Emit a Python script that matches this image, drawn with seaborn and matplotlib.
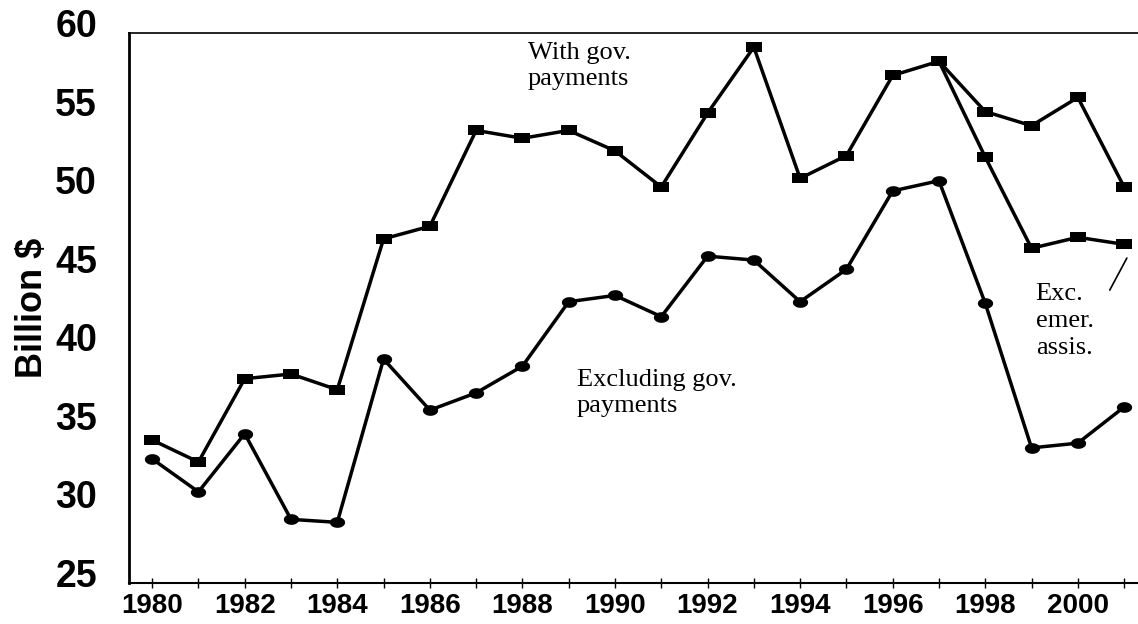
import numpy as np
import pandas as pd
import matplotlib
matplotlib.use("Agg")
import matplotlib.pyplot as plt
from matplotlib.transforms import ScaledTranslation
from matplotlib.ticker import FixedLocator
import seaborn as sns

# ---- data ----
years = list(range(1980, 2002))
with_gov = [34.1, 32.7, 38.0, 38.3, 37.3, 46.9, 47.7, 53.8, 53.3, 53.8, 52.5,
            50.2, 54.9, 59.1, 50.75, 52.2, 57.3, 58.2, 55.0, 54.1, 55.9, 50.2]
excl_gov = [32.9, 30.8, 34.5, 29.05, 28.86, 39.25, 36.0, 37.1, 38.8, 42.9, 43.3,
            41.95, 45.8, 45.55, 42.9, 44.96, 49.95, 50.6, 42.8, 33.6, 33.9, 36.2]
emer_years = [1997, 1998, 1999, 2000, 2001]
exc_emer = [58.2, 52.1, 46.3, 47.0, 46.55]
y_ticks = [25, 30, 35, 40, 45, 50, 55, 60]
x_label_years = [1980, 1982, 1984, 1986, 1988, 1990, 1992, 1994, 1996, 1998, 2000]

sns.set_style("white")
plt.rcParams['font.family'] = ['Liberation Sans', 'DejaVu Sans']
plt.rcParams['text.color'] = 'black'
plt.rcParams['xtick.color'] = 'black'
plt.rcParams['ytick.color'] = 'black'
plt.rcParams['axes.labelcolor'] = 'black'

fig = plt.figure(figsize=(11.38, 6.24), dpi=100)
ax = fig.add_axes([129/1138, 1 - 583/624, 1 - 129/1138, 550/624])

rect = [(-1, -0.66), (1, -0.66), (1, 0.66), (-1, 0.66), (-1, -0.66)]
t = np.linspace(0, 2*np.pi, 40)
ellipse = list(zip(np.cos(t), 0.7*np.sin(t)))

df1 = pd.DataFrame({"year": years, "val": with_gov})
df2 = pd.DataFrame({"year": years, "val": excl_gov})
df3 = pd.DataFrame({"year": emer_years, "val": exc_emer})

common = dict(color="black", linewidth=2.5, markeredgewidth=0, ax=ax)
sns.lineplot(data=df1, x="year", y="val", marker=rect, markersize=11.5, **common)
sns.lineplot(data=df3, x="year", y="val", marker=rect, markersize=11.5, **common)
sns.lineplot(data=df2, x="year", y="val", marker=ellipse, markersize=11, **common)

ax.set_xlim(1979.5, 2001.3)
ax.set_ylim(25, 60)
ax.set_xlabel("")
ax.set_ylabel("Billion $", fontsize=26, fontweight="bold", va="center", color="black")
ax.yaxis.set_label_coords(-0.096, 0.5)

ax.xaxis.set_major_locator(FixedLocator(x_label_years))
ax.xaxis.set_minor_locator(FixedLocator([y for y in years if y not in x_label_years]))
ax.set_xticks(x_label_years)
ax.set_xticklabels([str(y) for y in x_label_years], fontsize=20, fontweight="bold",
                   color="black")
ax.tick_params(axis="x", which="both", direction="inout", length=7, width=1,
               color="black", pad=4, bottom=True)
ax.set_yticks(y_ticks)
ax.set_yticklabels([str(v) for v in y_ticks], fontsize=27, fontweight="bold",
                   color="black")
ax.tick_params(axis="y", length=0, pad=23)
for lbl in ax.get_yticklabels():
    lbl.set_transform(lbl.get_transform() + ScaledTranslation(0, 0.10, fig.dpi_scale_trans))

for side in ["top", "bottom", "left"]:
    ax.spines[side].set_visible(True)
    ax.spines[side].set_color("black")
ax.spines["left"].set_linewidth(2)
ax.spines["bottom"].set_linewidth(1.5)
ax.spines["top"].set_linewidth(1.2)
ax.spines["right"].set_visible(False)

serif = ['Liberation Serif', 'DejaVu Serif']
ax.text(1988.12, 59.4, "With gov.\npayments", family=serif, fontsize=19,
        ha="left", va="top", linespacing=1.2, color="black")
ax.text(1989.17, 38.6, "Excluding gov.\npayments", family=serif, fontsize=19,
        ha="left", va="top", linespacing=1.2, color="black")
ax.text(1999.09, 44.1, "Exc.\nemer.\nassis.", family=serif, fontsize=19,
        ha="left", va="top", linespacing=1.3, color="black")
ax.plot([2000.69, 2001.06], [43.64, 45.68], color="black", linewidth=1.2)

fig.savefig("out.png", dpi=100)
